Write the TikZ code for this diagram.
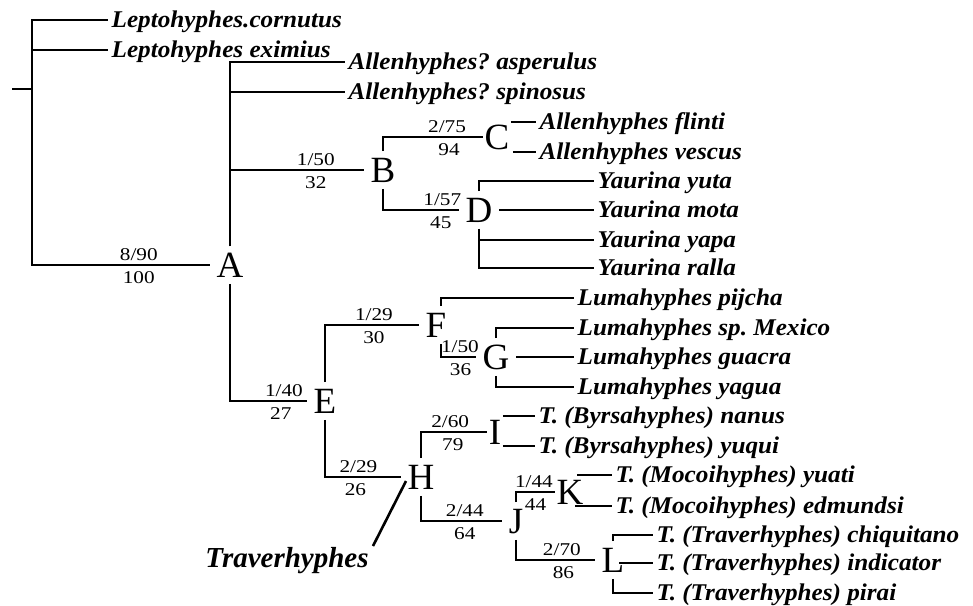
\documentclass[tikz,border=0pt]{standalone}
\usepackage{fontspec}
\setmainfont{Liberation Serif}
\newfontfamily\taxfont{Liberation Serif}[FakeStretch=1.05]
\newfontfamily\numfont{Liberation Serif}[FakeStretch=1.18]
\usetikzlibrary{positioning}
\frenchspacing

\begin{document}
\begin{tikzpicture}[x=1pt,y=-1pt,line width=1.3pt,
taxon/.style={anchor=west,inner sep=3pt,text height=15.8pt,text depth=0pt,font=\taxfont\fontsize{24}{24}\selectfont\bfseries\itshape},
clade/.style={inner sep=6pt,text height=24.4pt,text depth=0pt,font=\fontsize{37}{37}\selectfont},
bsup/.style={inner sep=1.5pt,text height=12.2pt,text depth=0pt,font=\numfont\fontsize{18}{18}\selectfont},
supup/.style={bsup,above=2.5pt},supdn/.style={bsup,below=4pt},
pointer/.style={line width=2.6pt}]
\useasboundingbox (0,0) rectangle (973,605);
% clade letters
\node[clade] (A) at (230,265) {A};
\node[clade] (B) at (383,170) {B};
\node[clade,inner sep=1pt] (C) at (497,137) {C};
\node[clade] (D) at (479,210) {D};
\node[clade] (E) at (325,401) {E};
\node[clade] (F) at (436,325) {F};
\node[clade] (G) at (496,357) {G};
\node[clade] (H) at (421,477) {H};
\node[clade,inner sep=1pt] (I) at (495,432) {I};
\node[clade] (J) at (516,521) {J};
\node[clade,inner sep=1pt] (K) at (570,492) {K};
\node[clade] (L) at (613,560) {L};
% terminal taxa
\node[taxon] (cornutus) at (108,20) {Leptohyphes.cornutus};
\node[taxon] (eximius) at (108,50) {Leptohyphes eximius};
\node[taxon] (asperulus) at (345,62) {Allenhyphes? asperulus};
\node[taxon] (spinosus) at (345,92) {Allenhyphes? spinosus};
\node[taxon] (flinti) at (536,122) {Allenhyphes flinti};
\node[taxon] (vescus) at (536,152) {Allenhyphes vescus};
\node[taxon] (yuta) at (594,181) {Yaurina yuta};
\node[taxon] (mota) at (594,210) {Yaurina mota};
\node[taxon] (yapa) at (594,240) {Yaurina yapa};
\node[taxon] (ralla) at (594,268) {Yaurina ralla};
\node[taxon] (pijcha) at (574,298) {Lumahyphes pijcha};
\node[taxon] (mexico) at (574,328) {Lumahyphes sp. Mexico};
\node[taxon] (guacra) at (574,357) {Lumahyphes guacra};
\node[taxon] (yagua) at (574,387) {Lumahyphes yagua};
\node[taxon] (nanus) at (535,416) {T. (Byrsahyphes) nanus};
\node[taxon] (yuqui) at (535,446) {T. (Byrsahyphes) yuqui};
\node[taxon] (yuati) at (612,475) {T. (Mocoihyphes) yuati};
\node[taxon] (edmundsi) at (612,506) {T. (Mocoihyphes) edmundsi};
\node[taxon] (chiquitano) at (653,535) {T. (Traverhyphes) chiquitano};
\node[taxon] (indicator) at (653,563) {T. (Traverhyphes) indicator};
\node[taxon] (pirai) at (653,593) {T. (Traverhyphes) pirai};
\node[taxon,anchor=center,text height=19pt,font=\fontsize{29}{29}\selectfont\bfseries\itshape] (trav) at (287,558) {Traverhyphes};
\coordinate (root) at (32,89); \coordinate (stub) at (12,89);
\coordinate (tail) at (373,546); \coordinate (tip) at (406,481);
% branches
\draw (stub)--(root); \draw (root)|-(cornutus.west); \draw (root)|-(eximius.west);
\draw (root)|- node[supup,pos=.8]{8/90} node[supdn,pos=.8]{100} (A.west);
\draw (A.north)|-(asperulus.west); \draw (A.north)|-(spinosus.west);
\draw (A.north)|- node[supup,pos=.82]{1/50} node[supdn,pos=.82]{32} (B.west);
\draw (A.south)|- node[supup,pos=.85]{1/40} node[supdn,pos=.83]{27} (E.west);
\draw (B.north)|- node[supup,pos=.82]{2/75} node[supdn,pos=.83]{94} (C.west);
\draw (B.south)|- node[supup,pos=.89]{1/57} node[supdn,pos=.88]{45} (D.west);
\draw (C.east|-flinti.west)--(flinti.west); \draw (C.east|-vescus.west)++(2,0)--(vescus.west);
\draw (D.north)|-(yuta.west); \draw (D.east)--(mota.west);
\draw (D.south)|-(yapa.west); \draw (D.south)|-(ralla.west);
\draw (E.north)|- node[supup,pos=.76]{1/29} node[supdn,pos=.76]{30} (F.west);
\draw (E.south)|- node[supup,pos=.72]{2/29} node[supdn,pos=.70]{26} (H.west);
\draw (F.north)++(5,0)|-(pijcha.west);
\draw (F.south)++(5,0)|- node[supup,pos=.77]{1/50} node[supdn,pos=.78]{36} (G.west);
\draw (G.north)|-(mexico.west); \draw (G.east)--(guacra.west); \draw (G.south)|-(yagua.west);
\draw (H.north)|- node[supup,pos=.72]{2/60} node[supdn,pos=.74]{79} (I.west);
\draw (H.south)|- node[supup,pos=.77]{2/44} node[supdn,pos=.77]{64} (J.west);
\draw (I.east|-nanus.west)--(nanus.west); \draw (I.east|-yuqui.west)--(yuqui.west);
\draw (J.north)|- node[supup,pos=.73]{1/44} node[supdn,pos=.75]{44} (K.west);
\draw (J.south)|- node[supup,pos=.79]{2/70} node[supdn,pos=.8]{86} (L.west);
\draw (K.center|-yuati.west)++(7,0)--(yuati.west); \draw (K.center|-edmundsi.west)++(5,0)--(edmundsi.west);
\draw (L.north)|-(chiquitano.west); \draw (L.center|-indicator.west)++(6,0)--(indicator.west); \draw (L.south)|-(pirai.west);
\draw[pointer] (tail)--(tip);
\end{tikzpicture}
\end{document}
